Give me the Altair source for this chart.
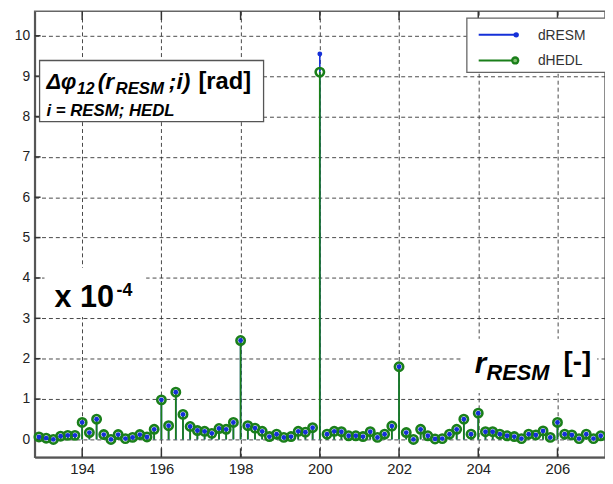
import altair as alt
import pandas as pd

# sample positions r_RESM
r_values = [192.909, 193.091, 193.273, 193.455, 193.636, 193.818, 194.000, 194.182, 194.364, 194.545,
            194.727, 194.909, 195.091, 195.273, 195.455, 195.636, 195.818, 196.000, 196.182, 196.364,
            196.545, 196.727, 196.909, 197.091, 197.273, 197.455, 197.636, 197.818, 198.000, 198.182,
            198.364, 198.545, 198.727, 198.909, 199.091, 199.273, 199.455, 199.636, 199.818, 200.000,
            200.182, 200.364, 200.545, 200.727, 200.909, 201.091, 201.273, 201.455, 201.636, 201.818,
            202.000, 202.182, 202.364, 202.545, 202.727, 202.909, 203.091, 203.273, 203.455, 203.636,
            203.818, 204.000, 204.182, 204.364, 204.545, 204.727, 204.909, 205.091, 205.273, 205.455,
            205.636, 205.818, 206.000, 206.182, 206.364, 206.545, 206.727, 206.909, 207.091]

d_hedl = [0.06, 0.03, 0.00, 0.08, 0.10, 0.10, 0.42, 0.17, 0.50, 0.12,
          0.00, 0.12, 0.02, 0.05, 0.12, 0.06, 0.25, 0.98, 0.34, 1.17,
          0.62, 0.32, 0.22, 0.20, 0.15, 0.27, 0.25, 0.42, 2.45, 0.34,
          0.28, 0.20, 0.07, 0.13, 0.05, 0.07, 0.20, 0.18, 0.29, 9.10,
          0.13, 0.20, 0.19, 0.09, 0.09, 0.07, 0.19, 0.05, 0.13, 0.33,
          1.80, 0.17, 0.00, 0.25, 0.09, 0.01, 0.02, 0.13, 0.25, 0.50,
          0.13, 0.65, 0.19, 0.19, 0.13, 0.09, 0.07, 0.02, 0.13, 0.11,
          0.21, 0.05, 0.42, 0.13, 0.11, 0.02, 0.13, 0.02, 0.09]

d_resm = [0.06, 0.03, 0.00, 0.08, 0.10, 0.10, 0.42, 0.17, 0.50, 0.12,
          0.00, 0.12, 0.02, 0.05, 0.12, 0.06, 0.25, 0.98, 0.34, 1.17,
          0.62, 0.32, 0.22, 0.20, 0.15, 0.27, 0.25, 0.42, 2.45, 0.34,
          0.28, 0.20, 0.07, 0.13, 0.05, 0.07, 0.20, 0.18, 0.29, 9.55,
          0.13, 0.20, 0.19, 0.09, 0.09, 0.07, 0.19, 0.05, 0.13, 0.33,
          1.80, 0.17, 0.00, 0.25, 0.09, 0.01, 0.02, 0.13, 0.25, 0.50,
          0.13, 0.65, 0.19, 0.19, 0.13, 0.09, 0.07, 0.02, 0.13, 0.11,
          0.21, 0.05, 0.42, 0.13, 0.11, 0.02, 0.13, 0.02, 0.09]

x_ticks = [194, 196, 198, 200, 202, 204, 206]
y_ticks = [0, 1, 2, 3, 4, 5, 6, 7, 8, 9, 10]

BLUE = "#1530d8"
GREEN = "#1a7f1a"
FONT = "Liberation Sans"

df = pd.DataFrame({"r": r_values, "hedl": d_hedl, "resm": d_resm})
df["base"] = 0.0
dfx = pd.DataFrame({"t": x_ticks})
dfy = pd.DataFrame({"t": y_ticks})
one = pd.DataFrame({"a": [0]})

xscale = alt.Scale(domain=[192.8, 207.2], nice=False, zero=False)
yscale = alt.Scale(domain=[-0.44, 10.61], nice=False, zero=False)
xaxis = alt.Axis(values=x_ticks, format="d", grid=True, ticks=False, labelPadding=5,
                 labelFontSize=15, title=None)
yaxis = alt.Axis(values=y_ticks, format="d", grid=True, ticks=False, labelPadding=5,
                 labelFontSize=14, title=None)


def X(f):
    return alt.X(f, type="quantitative", scale=xscale, axis=xaxis)


def Y(f):
    return alt.Y(f, type="quantitative", scale=yscale, axis=yaxis)


base = alt.Chart(df)

stem_resm = base.mark_rule(color=BLUE, strokeWidth=1.6).encode(x=X("r"), y=Y("resm"), y2="base")
stem_hedl = base.mark_rule(color=GREEN, strokeWidth=1.8).encode(x=X("r"), y=Y("hedl"), y2="base")
circ_hedl = base.mark_point(shape="circle", color=GREEN, filled=False, strokeWidth=2.6,
                            size=72, opacity=1).encode(x=X("r"), y=Y("hedl"))
dot_resm = base.mark_point(shape="circle", color=BLUE, filled=True, size=24,
                           opacity=1).encode(x=X("r"), y=Y("resm"))

tick_bot = alt.Chart(dfx).mark_rule(color="#333", strokeWidth=1.5).encode(
    x=X("t"), y=alt.value(452), y2=alt.value(443))
tick_top = alt.Chart(dfx).mark_rule(color="#333", strokeWidth=1.5).encode(
    x=X("t"), y=alt.value(0), y2=alt.value(9))
tick_left = alt.Chart(dfy).mark_rule(color="#333", strokeWidth=1.5).encode(
    y=Y("t"), x=alt.value(0), x2=alt.value(6))


def box(x1, x2, y1, y2, stroke=None):
    kw = dict(fill="white")
    if stroke:
        kw.update(stroke=stroke, strokeWidth=1.3)
    return alt.Chart(one).mark_rect(**kw).encode(
        x=alt.value(x1), x2=alt.value(x2), y=alt.value(y1), y2=alt.value(y2))


def txt(s, x, y, size, italic=True, bold=True, color="black"):
    kw = dict(text=s, align="left", baseline="alphabetic", font=FONT, fontSize=size, color=color)
    if italic:
        kw["fontStyle"] = "italic"
    if bold:
        kw["fontWeight"] = "bold"
    return alt.Chart(one).mark_text(**kw).encode(x=alt.value(x), y=alt.value(y))


# annotation: Δφ12(rRESM;i) [rad]
ann1 = [
    box(5, 232, 50, 112, stroke="#555"),
    txt("Δφ", 12, 79, 22),
    txt("12", 43, 84, 16),
    txt("(r", 64, 79, 23),
    txt("RESM", 82, 84, 17),
    txt(";i)", 136, 79, 23),
    txt("[rad]", 166, 79, 24, italic=False),
    txt("i = RESM; HEDL", 12, 106, 17),
]

ann2 = [
    box(10, 113, 260, 310),
    txt("x 10", 20, 300, 31, italic=False),
    txt("-4", 83, 289, 18, italic=False),
]

ann3 = [
    box(432, 570, 332, 387),
    txt("r", 446, 367, 30),
    txt("RESM", 458, 374, 22),
    txt("[-]", 536, 365, 28, italic=False),
]

legend = [
    box(438, 600, 7, 62, stroke="#666"),
    alt.Chart(one).mark_rule(color=BLUE, strokeWidth=2).encode(
        x=alt.value(450), x2=alt.value(488), y=alt.value(24)),
    alt.Chart(one).mark_point(shape="circle", color=BLUE, filled=True, size=30, opacity=1).encode(
        x=alt.value(488), y=alt.value(24)),
    alt.Chart(one).mark_rule(color=GREEN, strokeWidth=2).encode(
        x=alt.value(450), x2=alt.value(487), y=alt.value(50)),
    alt.Chart(one).mark_point(shape="circle", color=GREEN, filled=True, size=70, opacity=1).encode(
        x=alt.value(487), y=alt.value(50)),
    alt.Chart(one).mark_point(shape="circle", color="#7fbf6f", filled=True, size=14, opacity=1).encode(
        x=alt.value(487), y=alt.value(50)),
    txt("dRESM", 510, 29, 14, italic=False, bold=False, color="#333"),
    txt("dHEDL", 510, 55, 14, italic=False, bold=False, color="#333"),
]

chart = alt.layer(
    tick_bot, tick_top, tick_left,
    stem_resm, stem_hedl, circ_hedl, dot_resm,
    *ann1, *ann2, *ann3, *legend,
).properties(
    width=578, height=452,
    padding={"left": 27, "top": 0, "right": 0, "bottom": 24},
    autosize=alt.AutoSizeParams(type="none"),
    background="white",
).configure_view(
    stroke="#666", strokeWidth=1.5
).configure_axis(
    domainColor="#555", domainWidth=2, labelFont=FONT, labelColor="#222",
    gridColor="#333", gridDash=[4, 3], gridWidth=1, gridOpacity=0.9,
)

chart.save("out.html", embed_options={"renderer": "svg", "actions": False})
